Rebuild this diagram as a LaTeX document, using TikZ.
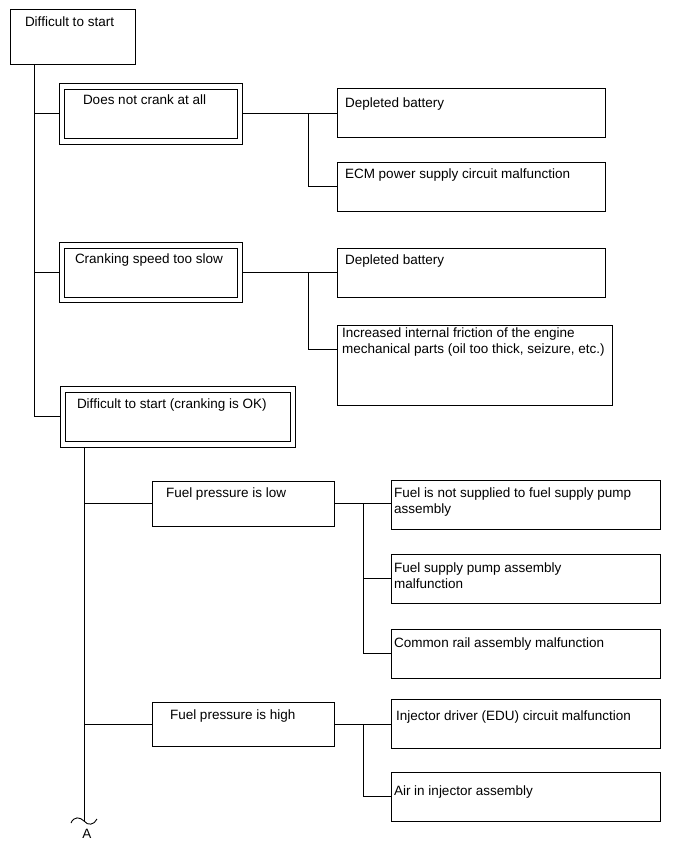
\documentclass[tikz,border=0pt]{standalone}
\usepackage{fontspec}
\setmainfont{Liberation Sans}
\usetikzlibrary{calc}
\tikzset{
  box/.style={draw, rectangle, anchor=north west, inner sep=0pt, outer sep=0pt, line width=0.9pt},
  txt/.style={anchor=north west, inner sep=0pt, outer sep=0pt, align=left, font=\fontsize{13.5}{16.5}\selectfont},
  wire/.style={line width=0.9pt}
}
\begin{document}
\begin{tikzpicture}[x=1pt,y=-1pt]
\useasboundingbox (0,0) rectangle (690,854);
% boxes
\node[box, minimum width=125pt, minimum height=55pt] (top) at (10,9) {};
\node[box, minimum width=183pt, minimum height=61pt] (db1) at (59,83) {};
\node[box, minimum width=173pt, minimum height=49pt] (db1i) at (64,89) {};
\node[box, minimum width=268pt, minimum height=49pt] (r1) at (337,88) {};
\node[box, minimum width=268pt, minimum height=49pt] (r2) at (337,162) {};
\node[box, minimum width=183pt, minimum height=60pt] (db2) at (59,242) {};
\node[box, minimum width=173pt, minimum height=49pt] (db2i) at (64,248) {};
\node[box, minimum width=268pt, minimum height=49pt] (r3) at (337,248) {};
\node[box, minimum width=275pt, minimum height=80pt] (r4) at (337,325) {};
\node[box, minimum width=235pt, minimum height=61pt] (db3) at (60,386) {};
\node[box, minimum width=225pt, minimum height=49pt] (db3i) at (65,392) {};
\node[box, minimum width=182pt, minimum height=45pt] (f1) at (152,481) {};
\node[box, minimum width=269pt, minimum height=49pt] (g1) at (391,480) {};
\node[box, minimum width=269pt, minimum height=49pt] (g2) at (391,554) {};
\node[box, minimum width=269pt, minimum height=49pt] (g3) at (391,629) {};
\node[box, minimum width=182pt, minimum height=44pt] (f2) at (152,702) {};
\node[box, minimum width=269pt, minimum height=49pt] (h1) at (391,699) {};
\node[box, minimum width=269pt, minimum height=49pt] (h2) at (391,772) {};
% texts
\node[txt] (ttop) at (25,14.5) {\strut Difficult to start};
\node[txt] (tdb1) at (83,92.5) {\strut Does not crank at all};
\node[txt] (tr1) at (345,95.5) {\strut Depleted battery};
\node[txt] (tr2) at (345,166.5) {\strut ECM power supply circuit malfunction};
\node[txt] (tdb2) at (75,251.5) {\strut Cranking speed too slow};
\node[txt] (tr3) at (345,252.5) {\strut Depleted battery};
\node[txt] (tr4) at (342,325.5) {\strut Increased internal friction of the engine\\mechanical parts (oil too thick, seizure, etc.)};
\node[txt] (tdb3) at (77,396.5) {\strut Difficult to start (cranking is OK)};
\node[txt] (tf1) at (166,485.5) {\strut Fuel pressure is low};
\node[txt] (tg1) at (394,485.5) {\strut Fuel is not supplied to fuel supply pump\\assembly};
\node[txt] (tg2) at (394,560.5) {\strut Fuel supply pump assembly\\malfunction};
\node[txt] (tg3) at (394,635.5) {\strut Common rail assembly malfunction};
\node[txt] (tf2) at (170,707.5) {\strut Fuel pressure is high};
\node[txt] (th1) at (396,708.5) {\strut Injector driver (EDU) circuit malfunction};
\node[txt] (th2) at (394,783.5) {\strut Air in injector assembly};
% junction coordinates
\coordinate (t0) at (34,64);
\coordinate (ja) at (308,0);
\coordinate (jb) at (308,0);
\coordinate (t1) at (84,447);
\coordinate (jc) at (363,0);
\coordinate (jd) at (363,0);
\coordinate (tend) at (84,821);
% main trunk
\draw[wire] (t0) |- (db3.west);
\draw[wire] (db1.west -| t0) -- (db1.west);
\draw[wire] (db2.west -| t0) -- (db2.west);
% does not crank
\draw[wire] (db1.east) -- (r1.west |- db1.east);
\draw[wire] (db1.east -| ja) |- (r2.west);
% cranking slow
\draw[wire] (db2.east) -- (r3.west |- db2.east);
\draw[wire] (db2.east -| jb) |- ($(r4.north west)+(0,24)$);
% second trunk
\draw[wire] (t1) -- (tend);
\draw[wire] (f1.west -| t1) -- (f1.west);
\draw[wire] (f2.west -| t1) -- (f2.west);
% fuel low
\draw[wire] (f1.east) -- (g1.west |- f1.east);
\draw[wire] (f1.east -| jc) |- (g3.west);
\draw[wire] (g2.west -| jc) -- (g2.west);
% fuel high
\draw[wire] (f2.east) -- (h1.west |- f2.east);
\draw[wire] (f2.east -| jd) |- (h2.west);
% break symbol
\draw[wire] (71,823) .. controls (74,816) and (80,817) .. (tend) .. controls (88,826) and (94,825) .. (97,819);
\node[anchor=base, inner sep=0pt, font=\fontsize{13.5}{16}\selectfont] (la) at (87,838) {A};
\end{tikzpicture}
\end{document}
